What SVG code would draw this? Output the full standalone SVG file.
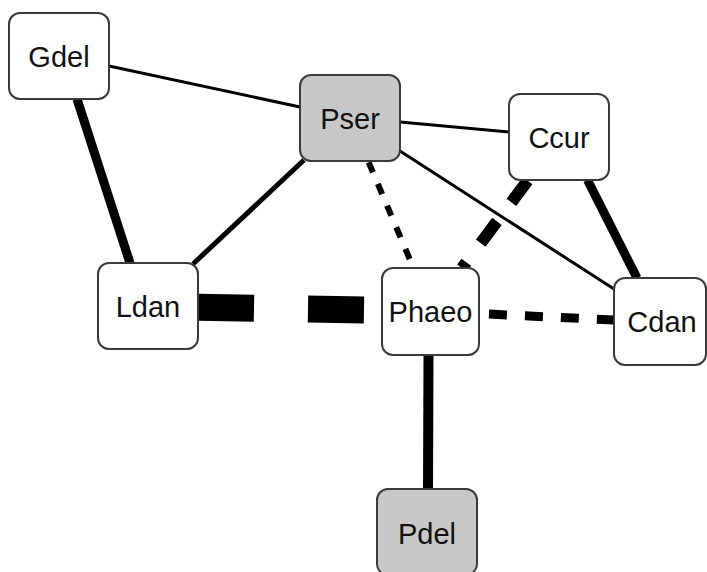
<svg xmlns="http://www.w3.org/2000/svg" width="707" height="572" viewBox="0 0 707 572">
<style>
.n rect{fill:#ffffff;stroke:#3a3a3a;stroke-width:2}
.n.g rect{fill:#c8c8c8}
.n text{font-family:"Liberation Sans",Arial,sans-serif;font-size:29px;fill:#111;text-anchor:middle}
.e line{stroke:#000;fill:none;stroke-linecap:butt}
</style>
<rect x="0" y="0" width="707" height="572" fill="#ffffff"/>
<g id="edges" class="e">
<line x1="109" y1="66" x2="300" y2="107" stroke-width="3"/>
<line x1="77" y1="99" x2="130" y2="263" stroke-width="9"/>
<line x1="304" y1="160" x2="193" y2="264" stroke-width="5"/>
<line x1="400" y1="122" x2="509" y2="132" stroke-width="3"/>
<line x1="400" y1="151" x2="614" y2="289" stroke-width="3"/>
<line x1="368.7" y1="162.3" x2="413.5" y2="268" stroke-width="6" stroke-dasharray="11 12.5"/>
<line x1="527.6" y1="180.7" x2="462" y2="268" stroke-width="12" stroke-dasharray="27 24"/>
<line x1="587.5" y1="180" x2="637" y2="278" stroke-width="9"/>
<line x1="198" y1="307.3" x2="382" y2="310.3" stroke-width="27" stroke-dasharray="56 54"/>
<line x1="453" y1="312.4" x2="614" y2="320" stroke-width="9" stroke-dasharray="18 18"/>
<line x1="428.5" y1="355" x2="428" y2="489" stroke-width="10"/>
</g>
<g id="Gdel" class="n"><rect x="9" y="13" width="100" height="86" rx="11"/><text x="59" y="66.5">Gdel</text></g>
<g id="Pser" class="n g"><rect x="300" y="75" width="100" height="86" rx="11"/><text x="350" y="129">Pser</text></g>
<g id="Ccur" class="n"><rect x="509" y="94" width="100" height="86" rx="11"/><text x="559" y="148">Ccur</text></g>
<g id="Ldan" class="n"><rect x="98" y="263" width="100" height="86" rx="11"/><text x="148" y="317">Ldan</text></g>
<g id="Phaeo" class="n"><rect x="382" y="268" width="97" height="87" rx="11"/><text x="430.5" y="322">Phaeo</text></g>
<g id="Cdan" class="n"><rect x="614" y="278" width="92" height="87" rx="11"/><text x="662" y="332">Cdan</text></g>
<g id="Pdel" class="n g"><rect x="377" y="489" width="100" height="86" rx="11"/><text x="427" y="543.5">Pdel</text></g>
</svg>
